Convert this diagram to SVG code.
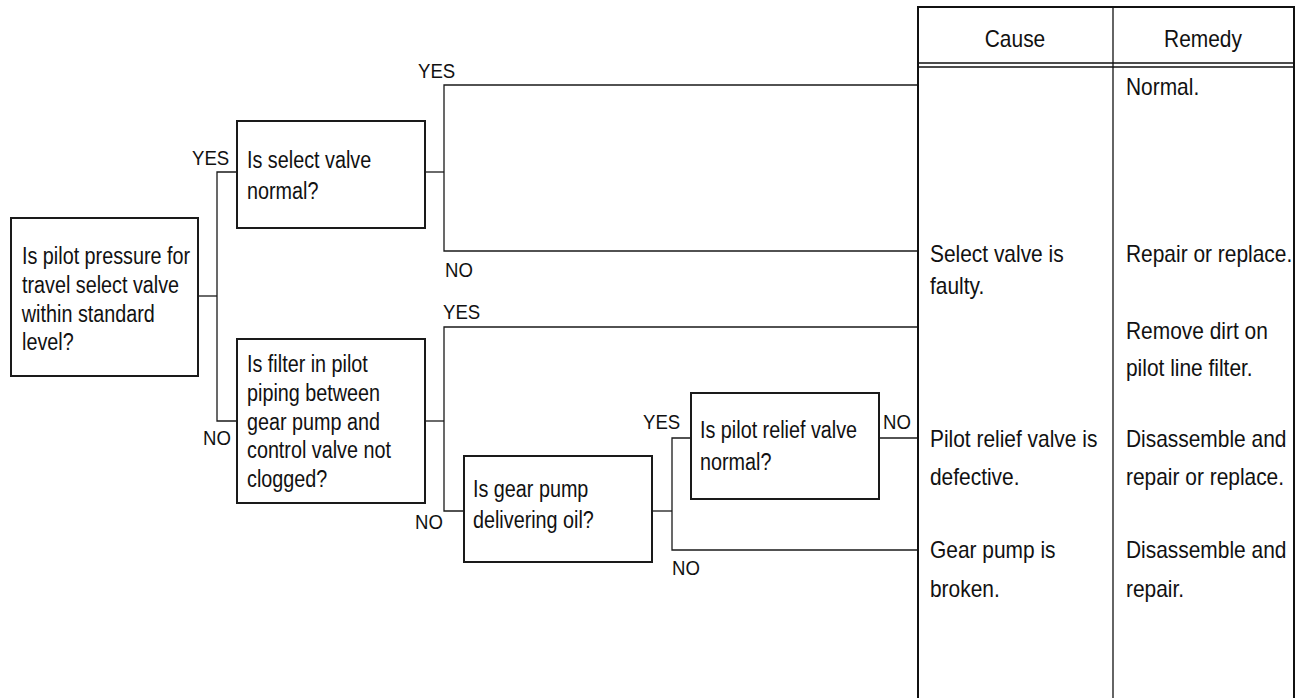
<svg xmlns="http://www.w3.org/2000/svg" width="1308" height="698" viewBox="0 0 1308 698">
<style>
.box{fill:#fff;stroke:#1a1a1a;stroke-width:2}
.ln{fill:none;stroke:#1a1a1a;stroke-width:1.3}
.tb{fill:none;stroke:#111;stroke-width:2}
.tbt{fill:none;stroke:#111;stroke-width:1.3}
text{font-family:"Liberation Sans",Arial,sans-serif;fill:#111;transform-box:fill-box;transform-origin:0 0}
.q{font-size:23px;transform:scaleX(0.86)}
.lb{font-size:20px;transform:scaleX(0.93)}
.c{font-size:23px;transform:scaleX(0.91)}
.h{font-size:23px;transform:scaleX(0.91);transform-origin:50% 0}
</style>
<rect width="1308" height="698" fill="#fff"/>
<g id="connectors">
<polyline class="ln" points="198,296 217,296"/>
<polyline class="ln" points="237,172 217,172 217,421 237,421"/>
<polyline class="ln" points="425,172 444,172"/>
<polyline class="ln" points="918,85 444,85 444,251 918,251"/>
<polyline class="ln" points="425,421 444,421"/>
<polyline class="ln" points="918,327 444,327 444,511 464,511"/>
<polyline class="ln" points="652,511 672,511"/>
<polyline class="ln" points="691,438 672,438 672,550 918,550"/>
<polyline class="ln" points="879,438 918,438"/>
<text class="lb" x="418" y="78">YES</text>
<text class="lb" x="445" y="277">NO</text>
<text class="lb" x="192" y="165">YES</text>
<text class="lb" x="203" y="445">NO</text>
<text class="lb" x="443" y="319">YES</text>
<text class="lb" x="415" y="529">NO</text>
<text class="lb" x="643" y="429">YES</text>
<text class="lb" x="883" y="429">NO</text>
<text class="lb" x="672" y="575">NO</text>
</g>
<g id="n-pilot-pressure">
<rect class="box" x="11" y="218" width="187" height="158"/>
<text class="q" x="22" y="264">Is pilot pressure for</text>
<text class="q" x="22" y="293">travel select valve</text>
<text class="q" x="22" y="322">within standard</text>
<text class="q" x="22" y="350">level?</text>
</g>
<g id="n-select-valve">
<rect class="box" x="237" y="121" width="188" height="107"/>
<text class="q" x="247" y="168">Is select valve</text>
<text class="q" x="247" y="199">normal?</text>
</g>
<g id="n-filter">
<rect class="box" x="237" y="339" width="188" height="164"/>
<text class="q" x="247" y="372">Is filter in pilot</text>
<text class="q" x="247" y="401">piping between</text>
<text class="q" x="247" y="430">gear pump and</text>
<text class="q" x="247" y="458">control valve not</text>
<text class="q" x="247" y="487">clogged?</text>
</g>
<g id="n-gear-pump">
<rect class="box" x="464" y="456" width="188" height="106"/>
<text class="q" x="473" y="497">Is gear pump</text>
<text class="q" x="473" y="528">delivering oil?</text>
</g>
<g id="n-relief">
<rect class="box" x="691" y="393" width="188" height="106"/>
<text class="q" x="700" y="438">Is pilot relief valve</text>
<text class="q" x="700" y="470">normal?</text>
</g>
<g id="table">
<line class="tb" x1="918" y1="7" x2="918" y2="698"/>
<line class="tb" x1="1294" y1="7" x2="1294" y2="698"/>
<line class="tb" x1="917" y1="7" x2="1295" y2="7"/>
<line class="tbt" x1="1113" y1="7" x2="1113" y2="698"/>
<line class="tbt" x1="918" y1="63" x2="1294" y2="63"/>
<line class="tbt" x1="918" y1="67" x2="1294" y2="67"/>
<text class="h" x="1015" y="47" text-anchor="middle">Cause</text>
<text class="h" x="1203" y="47" text-anchor="middle">Remedy</text>
</g>
<g id="r-normal">
<text class="c" x="1126" y="95">Normal.</text>
</g>
<g id="r-select-faulty">
<text class="c" x="930" y="262">Select valve is</text>
<text class="c" x="930" y="294">faulty.</text>
<text class="c" x="1126" y="262">Repair or replace.</text>
</g>
<g id="r-filter">
<text class="c" x="1126" y="339">Remove dirt on</text>
<text class="c" x="1126" y="376">pilot line filter.</text>
</g>
<g id="r-relief">
<text class="c" x="930" y="447">Pilot relief valve is</text>
<text class="c" x="930" y="485">defective.</text>
<text class="c" x="1126" y="447">Disassemble and</text>
<text class="c" x="1126" y="485">repair or replace.</text>
</g>
<g id="r-gear">
<text class="c" x="930" y="558">Gear pump is</text>
<text class="c" x="930" y="597">broken.</text>
<text class="c" x="1126" y="558">Disassemble and</text>
<text class="c" x="1126" y="597">repair.</text>
</g>
</svg>
